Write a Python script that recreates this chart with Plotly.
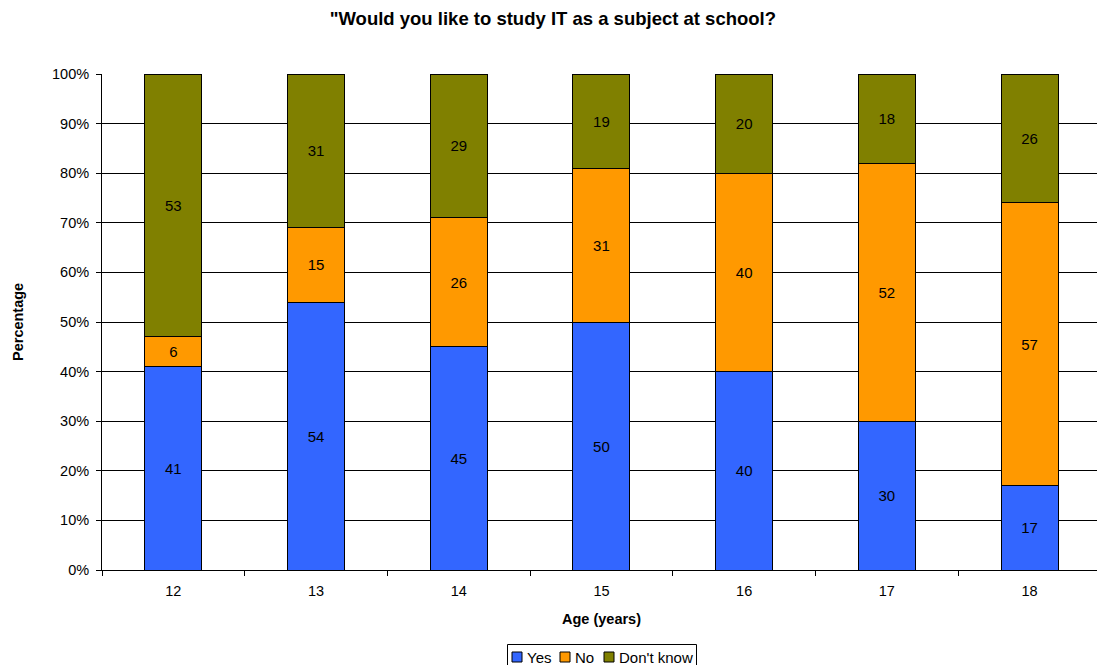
import plotly.graph_objects as go

# Survey results by age (percent of respondents)
ages = ["12", "13", "14", "15", "16", "17", "18"]
yes = [41, 54, 45, 50, 40, 30, 17]
no = [6, 15, 26, 31, 40, 52, 57]
dont_know = [53, 31, 29, 19, 20, 18, 26]

series_names = ["Yes", "No", "Don't know"]
series_colors = ["#3366FF", "#FF9900", "#808000"]
series_values = [yes, no, dont_know]

y_ticks = list(range(0, 101, 10))
y_ticktext = [f"{v}%" for v in y_ticks]

W, H = 1097, 665
L, R, T, B = 102, 1097, 74, 570  # plot area in pixels

FONT = "Liberation Sans, Arial, sans-serif"


def px(x):
    return (x - L) / (R - L)


def py(y):
    return (B - y) / (B - T)


fig = go.Figure()
for name, color, vals in zip(series_names, series_colors, series_values):
    fig.add_trace(go.Bar(
        x=ages, y=vals, name=name,
        marker=dict(color=color, line=dict(color="#000000", width=1)),
        text=vals, texttemplate="%{text}",
        textposition="inside", insidetextanchor="middle",
        textangle=0, constraintext="none",
        textfont=dict(family=FONT, size=15, color="#000000"),
        showlegend=False,
        hoverinfo="skip",
    ))

fig.update_layout(
    width=W, height=H,
    margin=dict(l=L, r=W - R, t=T, b=H - B),
    barmode="stack",
    bargap=0.6,
    plot_bgcolor="#FFFFFF",
    paper_bgcolor="#FFFFFF",
    font=dict(family=FONT, size=14, color="#000000"),
    title=dict(
        text='<b>"Would you like to study IT as a subject at school?</b>',
        x=0.504, xanchor="center", xref="container",
        y=1 - 19 / H, yanchor="middle",
        font=dict(family=FONT, size=18.5, color="#000000"),
    ),
)

fig.update_xaxes(
    type="category",
    range=[-0.5, (R - L) / 142.7 - 0.5],
    showline=True, linecolor="#000000", linewidth=1,
    ticks="outside", ticklen=5, tickcolor="#000000",
    tickson="boundaries",
    showgrid=False,
    tickfont=dict(family=FONT, size=14.5, color="#000000"),
    ticklabelstandoff=8,
)

fig.update_yaxes(
    range=[0, 100],
    tickvals=y_ticks, ticktext=y_ticktext,
    showline=True, linecolor="#000000", linewidth=1,
    ticks="outside", ticklen=5, tickcolor="#000000",
    showgrid=True, gridcolor="#000000", gridwidth=1,
    zeroline=False,
    tickfont=dict(family=FONT, size=14.5, color="#000000"),
    ticklabelstandoff=4,
)

# Axis titles
fig.add_annotation(
    text="<b>Age (years)</b>", xref="paper", yref="paper",
    x=px(601), y=py(619), xanchor="center", yanchor="middle",
    showarrow=False, font=dict(family=FONT, size=14.5, color="#000000"),
)
fig.add_annotation(
    text="<b>Percentage</b>", xref="paper", yref="paper",
    x=px(18), y=py(322), xanchor="center", yanchor="middle",
    textangle=-90, showarrow=False,
    font=dict(family=FONT, size=14.5, color="#000000"),
)

# Legend box drawn below the axis
fig.add_shape(
    type="rect", xref="paper", yref="paper",
    x0=px(507.5), x1=px(696.5), y0=py(644.5), y1=py(672),
    line=dict(color="#000000", width=1), fillcolor="#FFFFFF",
)
legend_x = [512, 560, 604]
for lx, name, color in zip(legend_x, series_names, series_colors):
    fig.add_shape(
        type="rect", xref="paper", yref="paper",
        x0=px(lx), x1=px(lx + 10), y0=py(662), y1=py(652),
        line=dict(color="#000000", width=1), fillcolor=color,
    )
    fig.add_annotation(
        text=name, xref="paper", yref="paper",
        x=px(lx + 13), y=py(657.5), xanchor="left", yanchor="middle",
        showarrow=False, font=dict(family=FONT, size=15, color="#000000"),
    )

fig.write_html("out.html")
